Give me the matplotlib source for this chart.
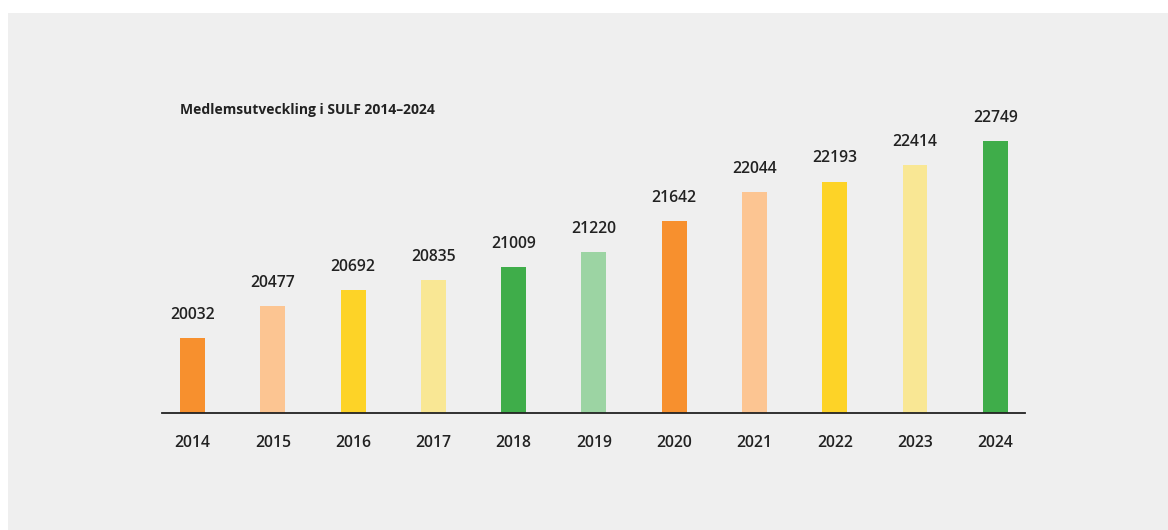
import matplotlib
matplotlib.use("Agg")
import matplotlib.pyplot as plt
from matplotlib.patches import Rectangle

# data
years = ["2014", "2015", "2016", "2017", "2018", "2019", "2020", "2021", "2022", "2023", "2024"]
members = [20032, 20477, 20692, 20835, 21009, 21220, 21642, 22044, 22193, 22414, 22749]
colors = ["#f7902e", "#fcc592", "#fdd327", "#f9e794", "#3fad4a",
          "#9cd4a3", "#f7902e", "#fcc592", "#fdd327", "#f9e794", "#3fad4a"]
title = "Medlemsutveckling i SULF 2014\u20132024"

plt.rcParams['font.family'] = ['Open Sans', 'DejaVu Sans']
W, H = 1168, 530
fig = plt.figure(figsize=(W / 100, H / 100), dpi=100, facecolor="white")

# grey panel behind everything
fig.patches.append(Rectangle((8 / W, 0), 1 - 8 / W, (H - 13) / H,
                             transform=fig.transFigure, facecolor="#efefef",
                             edgecolor="none", zorder=-10))

ax = fig.add_axes([162 / W, 117 / H, 863 / W, 300 / H])
ax.set_facecolor("none")
ax.set_zorder(5)

x = list(range(len(years)))
ax.bar(x, members, width=0.31, color=colors)
ax.set_xlim(-0.38, 10.37)
ax.set_ylim(19000, 19000 + 300 / 0.0725)

for xi, v in zip(x, members):
    ax.annotate(str(v), (xi, v), xytext=(0, 11), textcoords="offset points",
                ha="center", va="bottom", fontsize=11.3, fontweight="semibold",
                color="#222222")

ax.set_xticks(x)
ax.set_xticklabels(years, fontsize=11.3, fontweight="semibold", color="#222222")
ax.tick_params(axis="x", length=0, pad=16)
ax.set_yticks([])
for s in ["top", "right", "left"]:
    ax.spines[s].set_visible(False)
ax.spines["bottom"].set_color("#222222")
ax.spines["bottom"].set_linewidth(1.3)

fig.text(180 / W, 1 - 110 / H, title, fontsize=10, fontweight="bold",
         color="#222222", ha="left", va="center")

fig.savefig("out.png", dpi=100, facecolor=fig.get_facecolor())
